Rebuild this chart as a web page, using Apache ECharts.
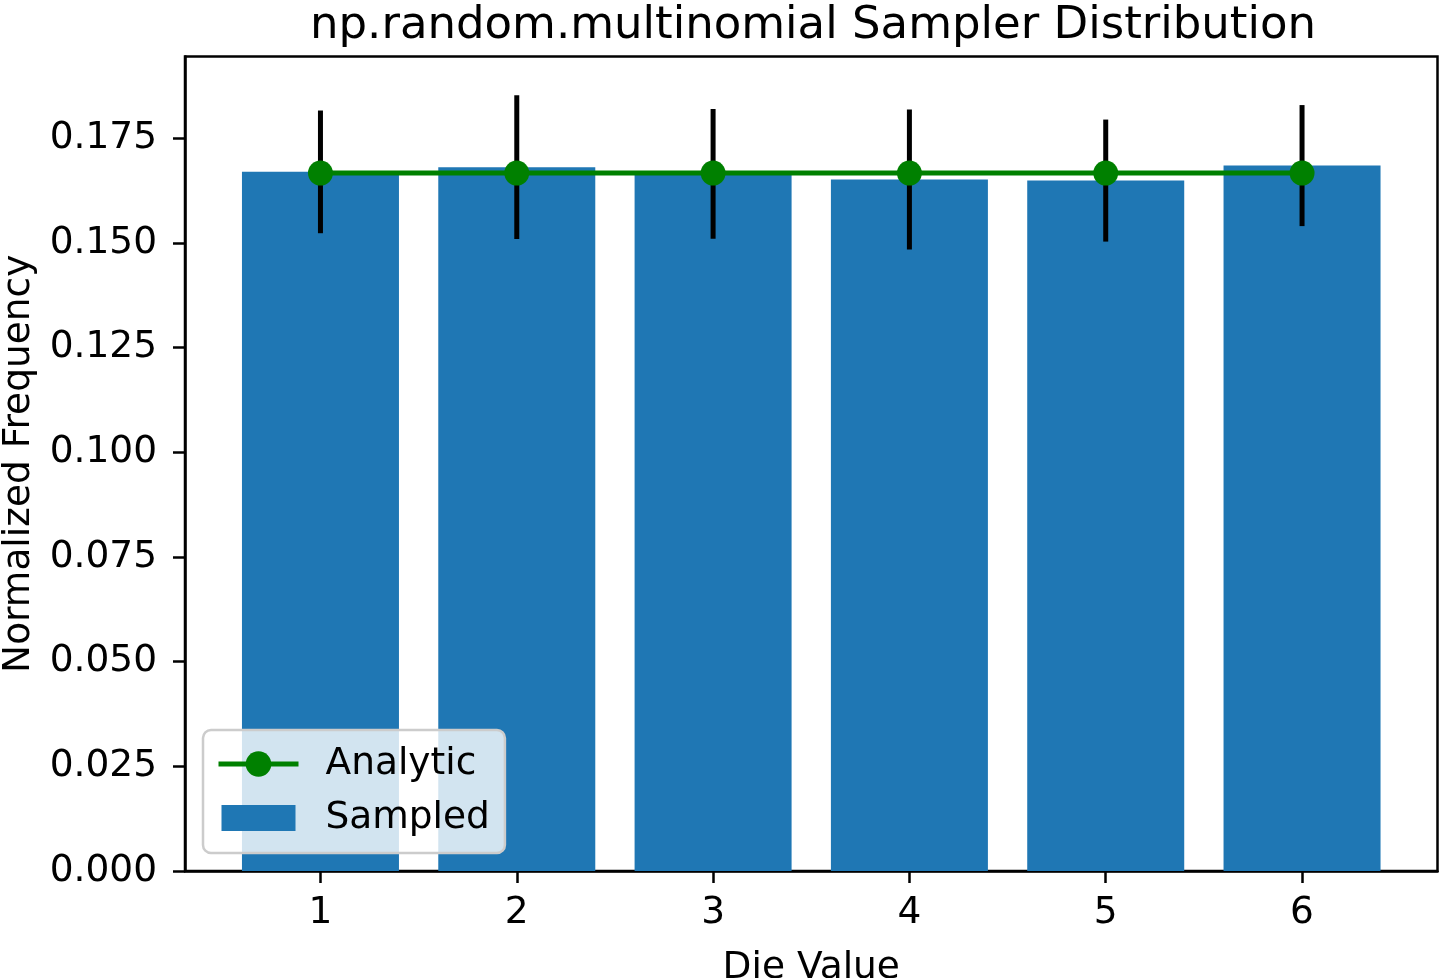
<!DOCTYPE html>
<html>
<head>
<meta charset="utf-8">
<script src="https://cdn.jsdelivr.net/npm/echarts@6/dist/echarts.min.js"></script>
<style>
html,body{margin:0;padding:0;background:#fff;}
#chart{width:1440px;height:978px;}
</style>
</head>
<body>
<div id="chart"></div>
<script>
// ---- data ----
const dieValues = [1, 2, 3, 4, 5, 6];
const sampled = [0.16695, 0.16807, 0.16647, 0.16511, 0.16487, 0.16845];
const sampledErr = [0.01465, 0.01715, 0.01549, 0.01672, 0.01457, 0.01445];
const analytic = [0.166667, 0.166667, 0.166667, 0.166667, 0.166667, 0.166667];
const yTicks = [0, 0.025, 0.05, 0.075, 0.1, 0.125, 0.15, 0.175];
const xTicks = [1, 2, 3, 4, 5, 6];
const yMax = 0.1945;
const xMin = 0.31, xMax = 6.69;

const FONT = 'DejaVu Sans';
const chart = echarts.init(document.getElementById('chart'), null, {renderer: 'canvas'});

const barData = dieValues.map((d, i) => [d, sampled[i]]);
const errData = dieValues.map((d, i) => [d, sampled[i] - sampledErr[i], sampled[i] + sampledErr[i]]);
const lineData = dieValues.map((d, i) => [d, analytic[i]]);

chart.setOption({
  animation: false,
  backgroundColor: '#ffffff',
  title: {
    text: 'np.random.multinomial Sampler Distribution',
    left: 305,
    top: -1,
    textStyle: {fontFamily: FONT, fontSize: 45, fontWeight: 'normal', color: '#000'}
  },
  legend: {
    orient: 'vertical',
    left: 203,
    top: 730,
    selectedMode: false,
    itemWidth: 80,
    itemHeight: 32,
    itemGap: 16,
    padding: [15, 15, 16, 13],
    backgroundColor: 'rgba(255,255,255,0.8)',
    borderColor: '#cccccc',
    borderWidth: 2.5,
    borderRadius: 8,
    textStyle: {fontFamily: FONT, fontSize: 37.5, color: '#000', lineHeight: 32, padding: [0, 0, 0, 22]},
    data: [
      {name: 'Analytic', lineStyle: {color: '#008000', width: 5}},
      {name: 'Sampled', icon: 'path://M0,0M80,32M3,3h74v26h-74z'}
    ]
  },
  grid: {
    left: 185, right: 2.5, top: 56.5, bottom: 107,
    outerBoundsMode: 'none',
    containLabel: false,
    show: true, borderColor: '#000', borderWidth: 2.5, backgroundColor: 'transparent'
  },
  xAxis: {
    type: 'value',
    min: xMin, max: xMax,
    name: 'Die Value',
    nameLocation: 'middle',
    nameGap: 78,
    nameTextStyle: {fontFamily: FONT, fontSize: 37.5, color: '#000'},
    splitLine: {show: false},
    axisLine: {show: true, lineStyle: {color: '#000', width: 2.5}},
    axisTick: {show: true, length: 12, lineStyle: {color: '#000', width: 2.5}, customValues: xTicks},
    axisLabel: {
      fontFamily: FONT, fontSize: 37.5, color: '#000', margin: 23,
      customValues: xTicks,
      formatter: v => String(Math.round(v))
    }
  },
  yAxis: {
    type: 'value',
    min: 0, max: yMax,
    name: 'Normalized Frequency',
    nameLocation: 'middle',
    nameRotate: 90,
    nameGap: 132,
    nameTextStyle: {fontFamily: FONT, fontSize: 37.5, color: '#000'},
    splitLine: {show: false},
    axisLine: {show: true, lineStyle: {color: '#000', width: 2.5}},
    axisTick: {show: true, length: 12, lineStyle: {color: '#000', width: 2.5}, customValues: yTicks},
    axisLabel: {
      fontFamily: FONT, fontSize: 37.5, color: '#000', margin: 28,
      customValues: yTicks,
      formatter: v => v.toFixed(3)
    }
  },
  series: [
    {
      name: 'Sampled',
      type: 'bar',
      data: barData,
      barWidth: 157,
      itemStyle: {color: '#1f77b4'},
      z: 1
    },
    {
      name: 'err',
      type: 'custom',
      data: errData,
      z: 2,
      renderItem: function (params, api) {
        const x = api.value(0);
        const lo = api.coord([x, api.value(1)]);
        const hi = api.coord([x, api.value(2)]);
        return {
          type: 'line',
          shape: {x1: lo[0], y1: lo[1], x2: hi[0], y2: hi[1]},
          style: {stroke: '#000', lineWidth: 5}
        };
      }
    },
    {
      name: 'Analytic',
      type: 'line',
      data: lineData,
      symbol: 'circle',
      symbolSize: 25,
      lineStyle: {color: '#008000', width: 5},
      itemStyle: {color: '#008000'},
      z: 3
    }
  ]
});
</script>
</body>
</html>
